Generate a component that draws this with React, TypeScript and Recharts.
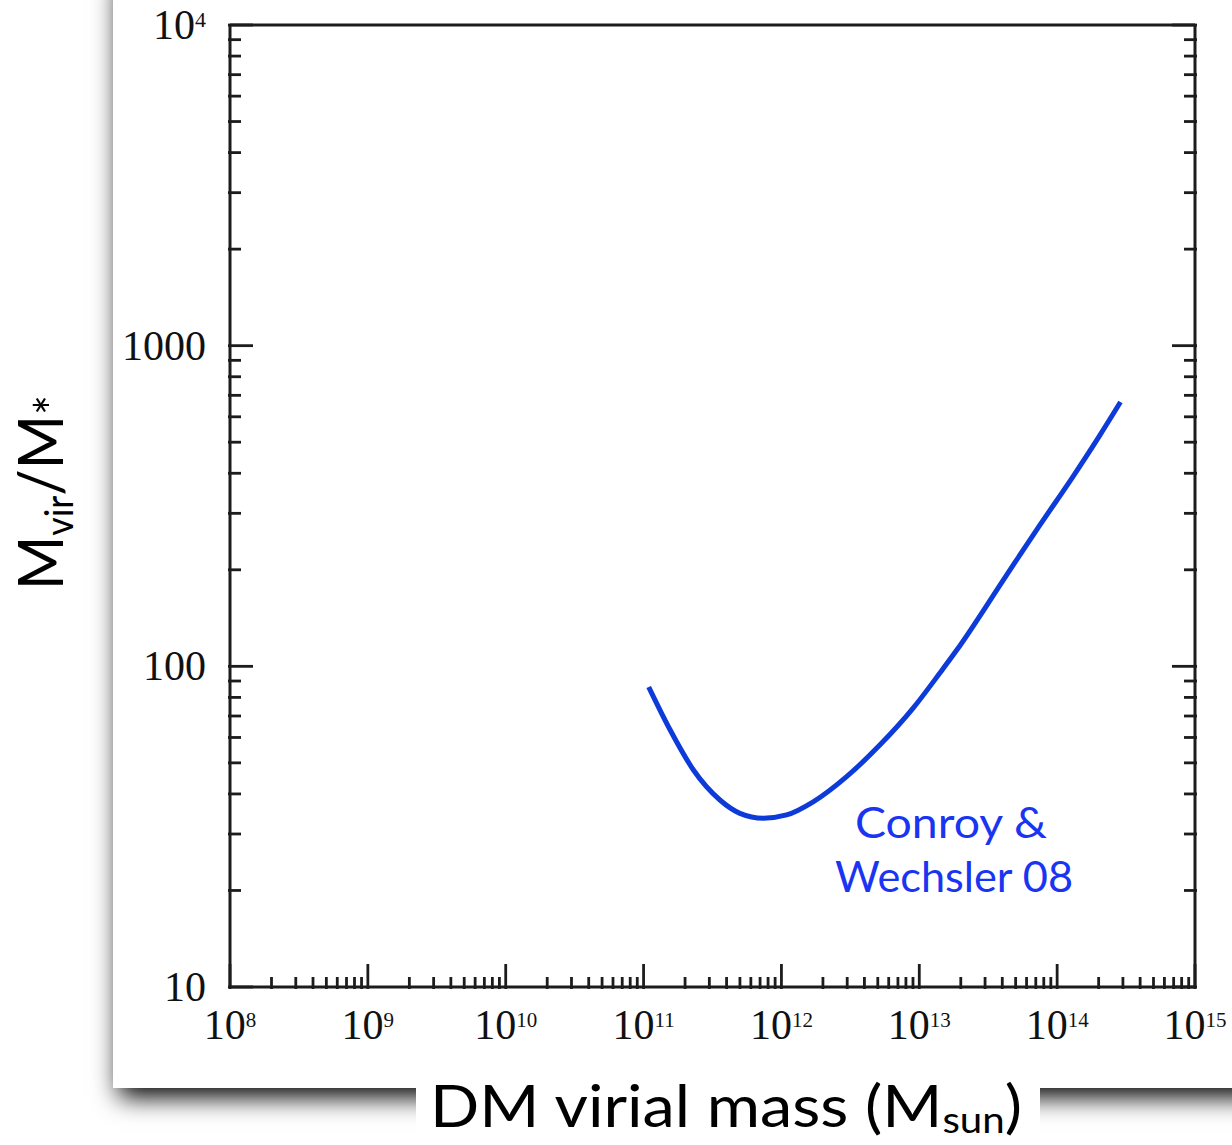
import React from "react";
import { LineChart, Line, XAxis, YAxis } from "recharts";

// halo mass (M_sun) and M_vir / M_*
const haloMass = [1.09e11, 1.56e11, 2.3e11, 3.58e11, 5.0e11, 7.38e11, 1.09e12, 1.7e12, 2.97e12, 5.19e12, 9.05e12, 1.41e13, 1.87e13, 4.31e13, 7.51e13, 1.31e14, 2.05e14, 2.88e14];
const massRatio = [86.2, 63.3, 47.5, 38.3, 34.8, 33.6, 34.4, 37.8, 45.3, 56.9, 74.2, 95.3, 112.4, 193, 276, 392, 527, 667];

const xDecades = [1e8, 1e9, 1e10, 1e11, 1e12, 1e13, 1e14, 1e15];
const xTickExponents = ["8", "9", "10", "11", "12", "13", "14", "15"];
const yDecades = [10, 100, 1000, 10000];
const yTickLabels = [
  { base: "10", sup: "" },
  { base: "100", sup: "" },
  { base: "1000", sup: "" },
  { base: "10", sup: "4" },
];
const minorSteps = [2, 3, 4, 5, 6, 7, 8, 9];

const withMinor = (decades: number[]) => {
  const out = [...decades];
  decades.slice(0, -1).forEach((d) => minorSteps.forEach((s) => out.push(d * s)));
  return out;
};
const xTicks = withMinor(xDecades);
const yTicks = withMinor(yDecades);

const data = haloMass.map((m, i) => ({ mass: m, ratio: massRatio[i] }));

const majorIndex = (decades: number[], v: number) =>
  decades.findIndex((d) => Math.abs(d - v) / d < 1e-9);

const AXIS = "#1c1c1c";
const SERIF = "'Liberation Serif', 'Times New Roman', serif";
const SANS = "Lato, 'Noto Sans', sans-serif";

const BottomTick = (props: any) => {
  const { x, y, payload } = props;
  const i = majorIndex(xDecades, payload.value);
  const len = i >= 0 ? 25 : 12;
  return (
    <g>
      <line x1={x} x2={x} y1={y} y2={y - len} stroke={AXIS} strokeWidth={2.8} />
      {i >= 0 && (
        <text x={x} y={y + 50} textAnchor="middle" fontFamily={SERIF} fontSize={42} fill="#111">
          10
          <tspan dy={-12} fontSize={21}>{xTickExponents[i]}</tspan>
        </text>
      )}
    </g>
  );
};

const TopTick = (props: any) => {
  const { x, y, payload } = props;
  const len = majorIndex(xDecades, payload.value) >= 0 ? 24 : 11;
  return <line x1={x} x2={x} y1={y} y2={y + len} stroke={AXIS} strokeWidth={2.8} />;
};

const LeftTick = (props: any) => {
  const { x, y, payload } = props;
  const i = majorIndex(yDecades, payload.value);
  const len = i >= 0 ? 25 : 13;
  return (
    <g>
      <line x1={x} x2={x + len} y1={y} y2={y} stroke={AXIS} strokeWidth={2.8} />
      {i >= 0 && (
        <text x={x - 22} y={y + 14} textAnchor="end" fontFamily={SERIF} fontSize={42} fill="#111">
          {yTickLabels[i].base}
          {yTickLabels[i].sup && (
            <tspan dy={-12} fontSize={22}>{yTickLabels[i].sup}</tspan>
          )}
        </text>
      )}
    </g>
  );
};

const RightTick = (props: any) => {
  const { x, y, payload } = props;
  const len = majorIndex(yDecades, payload.value) >= 0 ? 25 : 13;
  return <line x1={x} x2={x - len} y1={y} y2={y} stroke={AXIS} strokeWidth={2.8} />;
};

export default function App() {
  return (
    <div style={{ position: "absolute", left: 0, top: 0, width: 1232, height: 1145, overflow: "hidden", background: "#fff" }}>
      {/* slide card with drop shadow */}
      <div
        style={{
          position: "absolute",
          left: 113,
          top: -40,
          width: 1200,
          height: 1128,
          background: "#fff",
          boxShadow: "0 15px 24px -6px rgba(0,0,0,1)",
        }}
      />
      <div style={{ position: "absolute", left: 0, top: 0 }}>
        <LineChart width={1232} height={1145} data={data} margin={{ top: 15, right: 27, bottom: 98, left: 130 }}>
          <XAxis
            dataKey="mass"
            type="number"
            scale="log"
            domain={[1e8, 1e15]}
            allowDataOverflow
            ticks={xTicks}
            interval={0}
            tickSize={0}
            tick={<BottomTick />}
            height={60}
            axisLine={{ stroke: AXIS, strokeWidth: 3 }}
          />
          <XAxis
            xAxisId="top"
            orientation="top"
            type="number"
            scale="log"
            domain={[1e8, 1e15]}
            allowDataOverflow
            ticks={xTicks}
            interval={0}
            tickSize={0}
            tick={<TopTick />}
            height={10}
            axisLine={{ stroke: AXIS, strokeWidth: 3 }}
          />
          <YAxis
            type="number"
            scale="log"
            domain={[10, 10000]}
            allowDataOverflow
            ticks={yTicks}
            interval={0}
            tickSize={0}
            tick={<LeftTick />}
            width={100}
            axisLine={{ stroke: AXIS, strokeWidth: 3 }}
          />
          <YAxis
            yAxisId="right"
            orientation="right"
            type="number"
            scale="log"
            domain={[10, 10000]}
            allowDataOverflow
            ticks={yTicks}
            interval={0}
            tickSize={0}
            tick={<RightTick />}
            width={10}
            axisLine={{ stroke: AXIS, strokeWidth: 3 }}
          />
          <Line
            dataKey="ratio"
            type="monotone"
            stroke="#0d3bd9"
            strokeWidth={5}
            dot={false}
            isAnimationActive={false}
          />
        </LineChart>
      </div>
      <svg width={1232} height={1145} style={{ position: "absolute", left: 0, top: 0, pointerEvents: "none" }}>
        <g fontFamily={SANS} fill="#1a35f2" fontSize={43} textAnchor="middle">
          <text x={951} y={838} textLength={192} lengthAdjust="spacingAndGlyphs">Conroy &amp;</text>
          <text x={954} y={892} textLength={238} lengthAdjust="spacingAndGlyphs">Wechsler 08</text>
        </g>
        <rect x={416} y={1072} width={624} height={80} fill="#fff" />
        <text x={430} y={1127} fontFamily={SANS} fontSize={58} fill="#000" textLength={592} lengthAdjust="spacingAndGlyphs">
          DM virial mass (M<tspan dy={6} fontSize={36}>sun</tspan><tspan dy={-6}>)</tspan>
        </text>
        <text
          transform="translate(63 590) rotate(-90)"
          fontFamily={SANS}
          fontSize={62}
          fill="#000"
          textLength={195}
          lengthAdjust="spacingAndGlyphs"
        >
          M<tspan dy={10} fontSize={38}>vir</tspan><tspan dy={-10}>/M</tspan><tspan dy={8} fontSize={50}>*</tspan>
        </text>
      </svg>
    </div>
  );
}
